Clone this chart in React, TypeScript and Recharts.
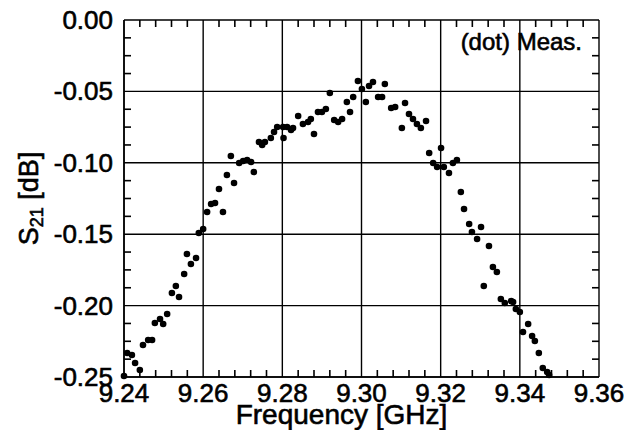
import React from 'react';
import { ScatterChart, Scatter, XAxis, YAxis, ReferenceLine, ReferenceDot } from 'recharts';

// measured S21 points
const freqGHz = [
  9.24, 9.2408, 9.242, 9.2428, 9.244, 9.2448, 9.2461, 9.2471, 9.2478, 9.2491,
  9.2499, 9.2509, 9.2521, 9.2531, 9.2539, 9.2552, 9.2559, 9.2569, 9.2582, 9.2589,
  9.26, 9.261, 9.262, 9.263, 9.264, 9.265, 9.266, 9.267, 9.2678, 9.2691,
  9.2701, 9.2711, 9.2721, 9.2728, 9.2741, 9.2749, 9.2756, 9.2771, 9.2779, 9.2787,
  9.2802, 9.2803, 9.2812, 9.2822, 9.2827, 9.284, 9.2852, 9.2865, 9.2872, 9.288,
  9.289, 9.29, 9.291, 9.292, 9.2931, 9.2941, 9.2951, 9.2963, 9.2971, 9.2979,
  9.2991, 9.3001, 9.3011, 9.3019, 9.3029, 9.3042, 9.3052, 9.3059, 9.3075, 9.3085,
  9.3102, 9.311, 9.312, 9.313, 9.314, 9.315, 9.3163, 9.3171, 9.3181, 9.3191,
  9.3201, 9.3208, 9.3221, 9.3231, 9.3241, 9.3251, 9.3259, 9.3272, 9.3279, 9.3292,
  9.3302, 9.3309, 9.3322, 9.3332, 9.3342, 9.3352, 9.3362, 9.3378, 9.3383, 9.339,
  9.34, 9.3408, 9.3421, 9.3431, 9.3438, 9.3448, 9.3458, 9.3469, 9.3474,
];
const s21dB = [
  -0.2493, -0.2332, -0.2346, -0.2402, -0.2451, -0.2276, -0.2241, -0.2241, -0.2122, -0.2094,
  -0.2129, -0.2059, -0.1912, -0.1863, -0.194, -0.1779, -0.1639, -0.1709, -0.1667, -0.1492,
  -0.1464, -0.1345, -0.1289, -0.1282, -0.1183, -0.1345, -0.1085, -0.0952, -0.1141, -0.1001,
  -0.0987, -0.098, -0.0994, -0.1064, -0.0854, -0.0875, -0.0854, -0.0826, -0.0784, -0.0749,
  -0.0749, -0.0826, -0.0749, -0.077, -0.0756, -0.0672, -0.0728, -0.0714, -0.0693, -0.0798,
  -0.0644, -0.0644, -0.0623, -0.0511, -0.07, -0.0714, -0.0693, -0.0574, -0.0644, -0.0539,
  -0.0427, -0.0483, -0.0574, -0.0462, -0.0434, -0.0539, -0.0539, -0.0448, -0.0616, -0.0609,
  -0.0756, -0.0581, -0.0658, -0.0693, -0.0728, -0.0756, -0.0707, -0.0931, -0.1001, -0.1029,
  -0.0896, -0.1029, -0.1071, -0.1001, -0.098, -0.1204, -0.1324, -0.1429, -0.1485, -0.1534,
  -0.145, -0.1863, -0.1583, -0.173, -0.1765, -0.1954, -0.1982, -0.1968, -0.1975, -0.2024,
  -0.2045, -0.2185, -0.2129, -0.2213, -0.2248, -0.2332, -0.2437, -0.2465, -0.2486,
];

const xMajor = [9.24, 9.26, 9.28, 9.3, 9.32, 9.34, 9.36];
const yMajor = [0, -0.05, -0.1, -0.15, -0.2, -0.25];
const X_DOMAIN: [number, number] = [9.24, 9.36];
const Y_DOMAIN: [number, number] = [-0.25, 0];

// minor ticks between majors: 5 steps on x, 4 on y
const subdivide = (majors: number[], steps: number) => {
  const out: number[] = [];
  majors.forEach((m, i) => {
    if (i < majors.length - 1) {
      const d = (majors[i + 1] - m) / steps;
      for (let k = 1; k < steps; k++) out.push(+(m + d * k).toFixed(5));
    }
  });
  return out;
};
const xMinor = subdivide(xMajor, 5);
const yMinor = subdivide(yMajor, 4);

const data = freqGHz.map((f, i) => ({ f, s: s21dB[i] }));

const W = 629;
const H = 430;
const M = { top: 20, right: 30, left: 0, bottom: 0 };
const Y_AXIS_W = 124;
const X_AXIS_H = 53;
const PLOT_W = W - M.right - Y_AXIS_W;
const PLOT_H = H - M.top - X_AXIS_H;
const TICK = 7;
// tick length in axis units
const vTickLen = (TICK / PLOT_H) * (Y_DOMAIN[1] - Y_DOMAIN[0]);
const hTickLen = (TICK / PLOT_W) * (X_DOMAIN[1] - X_DOMAIN[0]);

const FONT = '"Liberation Sans", Arial, Helvetica, sans-serif';
const textProps = { fontFamily: FONT, fill: '#000', stroke: '#000', strokeWidth: 0.6 };

const XTick = (props: any) => (
  <text x={props.x} y={props.y + 25} textAnchor="middle" fontSize={26} {...textProps}>
    {(props.payload.value as number).toFixed(2)}
  </text>
);

const YTick = (props: any) => (
  <text x={props.x - 11} y={props.y + 9} textAnchor="end" fontSize={26} {...textProps}>
    {(props.payload.value as number).toFixed(2)}
  </text>
);

const YTitle = (props: any) => {
  const vb = props.viewBox || { x: 0, y: M.top, width: Y_AXIS_W, height: PLOT_H };
  const cy = vb.y + vb.height / 2;
  return (
    <text transform={`translate(38, ${cy}) rotate(-90)`} textAnchor="middle" fontSize={27} {...textProps}>
      <tspan>S</tspan>
      <tspan fontSize={18} dy={5}>21</tspan>
      <tspan dy={-5}>{' [dB]'}</tspan>
    </text>
  );
};

const MeasNote = (props: any) => {
  const vb = props.viewBox || { x: Y_AXIS_W, y: M.top, width: PLOT_W, height: 0 };
  return (
    <text x={vb.x + vb.width - 17} y={vb.y + 30} textAnchor="end" fontSize={24} {...textProps}>
      (dot) Meas.
    </text>
  );
};

const Dot = (props: any) => <circle cx={props.cx} cy={props.cy} r={3.3} fill="#000" />;

const TopTick = (p: any) => <line x1={p.cx} y1={p.cy} x2={p.cx} y2={p.cy + 7} stroke="#000" strokeWidth={1.6} />;
const RightTick = (p: any) => <line x1={p.cx} y1={p.cy} x2={p.cx - 7} y2={p.cy} stroke="#000" strokeWidth={1.6} />;

// minor tick marks, drawn in a bare chart laid over the main one with the same box and domains
const MinorTicks = () => {
  const [yLo, yHi] = Y_DOMAIN;
  const [xLo, xHi] = X_DOMAIN;
  return (
    <div style={{ position: 'absolute', left: 0, top: 0, pointerEvents: 'none' }}>
      <ScatterChart width={W} height={H} margin={M}>
        <XAxis dataKey="f" type="number" domain={X_DOMAIN} ticks={xMajor} interval={0} height={X_AXIS_H} axisLine={false} tickLine={false} tick={false} />
        <YAxis dataKey="s" type="number" domain={Y_DOMAIN} ticks={yMajor} interval={0} width={Y_AXIS_W} axisLine={false} tickLine={false} tick={false} />
        {xMinor.map((v) => (
          <ReferenceLine key={`bx${v}`} segment={[{ x: v, y: yLo }, { x: v, y: yLo + vTickLen }]} stroke="#000" strokeWidth={1.6} />
        ))}
        {yMinor.map((v) => (
          <ReferenceLine key={`ly${v}`} segment={[{ x: xLo, y: v }, { x: xLo + hTickLen, y: v }]} stroke="#000" strokeWidth={1.6} />
        ))}
        {xMinor.map((v) => (
          <ReferenceDot key={`tx${v}`} x={v} y={yHi} r={1} shape={TopTick} />
        ))}
        {yMinor.map((v) => (
          <ReferenceDot key={`ry${v}`} x={xHi} y={v} r={1} shape={RightTick} />
        ))}
        <Scatter data={data} fill="none" isAnimationActive={false} />
      </ScatterChart>
    </div>
  );
};

export default function App() {
  return (
    <div style={{ position: 'absolute', left: 0, top: 0, width: W, height: H, background: '#fff' }}>
      <ScatterChart width={W} height={H} margin={M}>
        <XAxis
          dataKey="f"
          type="number"
          domain={X_DOMAIN}
          ticks={xMajor}
          interval={0}
          height={X_AXIS_H}
          axisLine={{ stroke: '#000', strokeWidth: 1.5 }}
          tickLine={false}
          tickSize={0}
          tickMargin={0}
          tick={<XTick />}
          label={{ value: 'Frequency [GHz]', position: 'insideBottom', offset: 6, dx: -20, fontSize: 28, ...textProps }}
        />
        <YAxis
          dataKey="s"
          type="number"
          domain={Y_DOMAIN}
          ticks={yMajor}
          interval={0}
          width={Y_AXIS_W}
          axisLine={{ stroke: '#000', strokeWidth: 1.5 }}
          tickLine={false}
          tickSize={0}
          tickMargin={0}
          tick={<YTick />}
          label={{ content: <YTitle /> }}
        />
        {/* grid + frame at the major ticks */}
        {xMajor.map((v) => (
          <ReferenceLine key={`gx${v}`} x={v} stroke="#000" strokeWidth={1.4} />
        ))}
        {yMajor.map((v) => (
          <ReferenceLine
            key={`gy${v}`}
            y={v}
            stroke="#000"
            strokeWidth={1.4}
            label={v === 0 ? { content: <MeasNote /> } : undefined}
          />
        ))}
        <Scatter data={data} shape={Dot} isAnimationActive={false} />
      </ScatterChart>
      <MinorTicks />
    </div>
  );
}
